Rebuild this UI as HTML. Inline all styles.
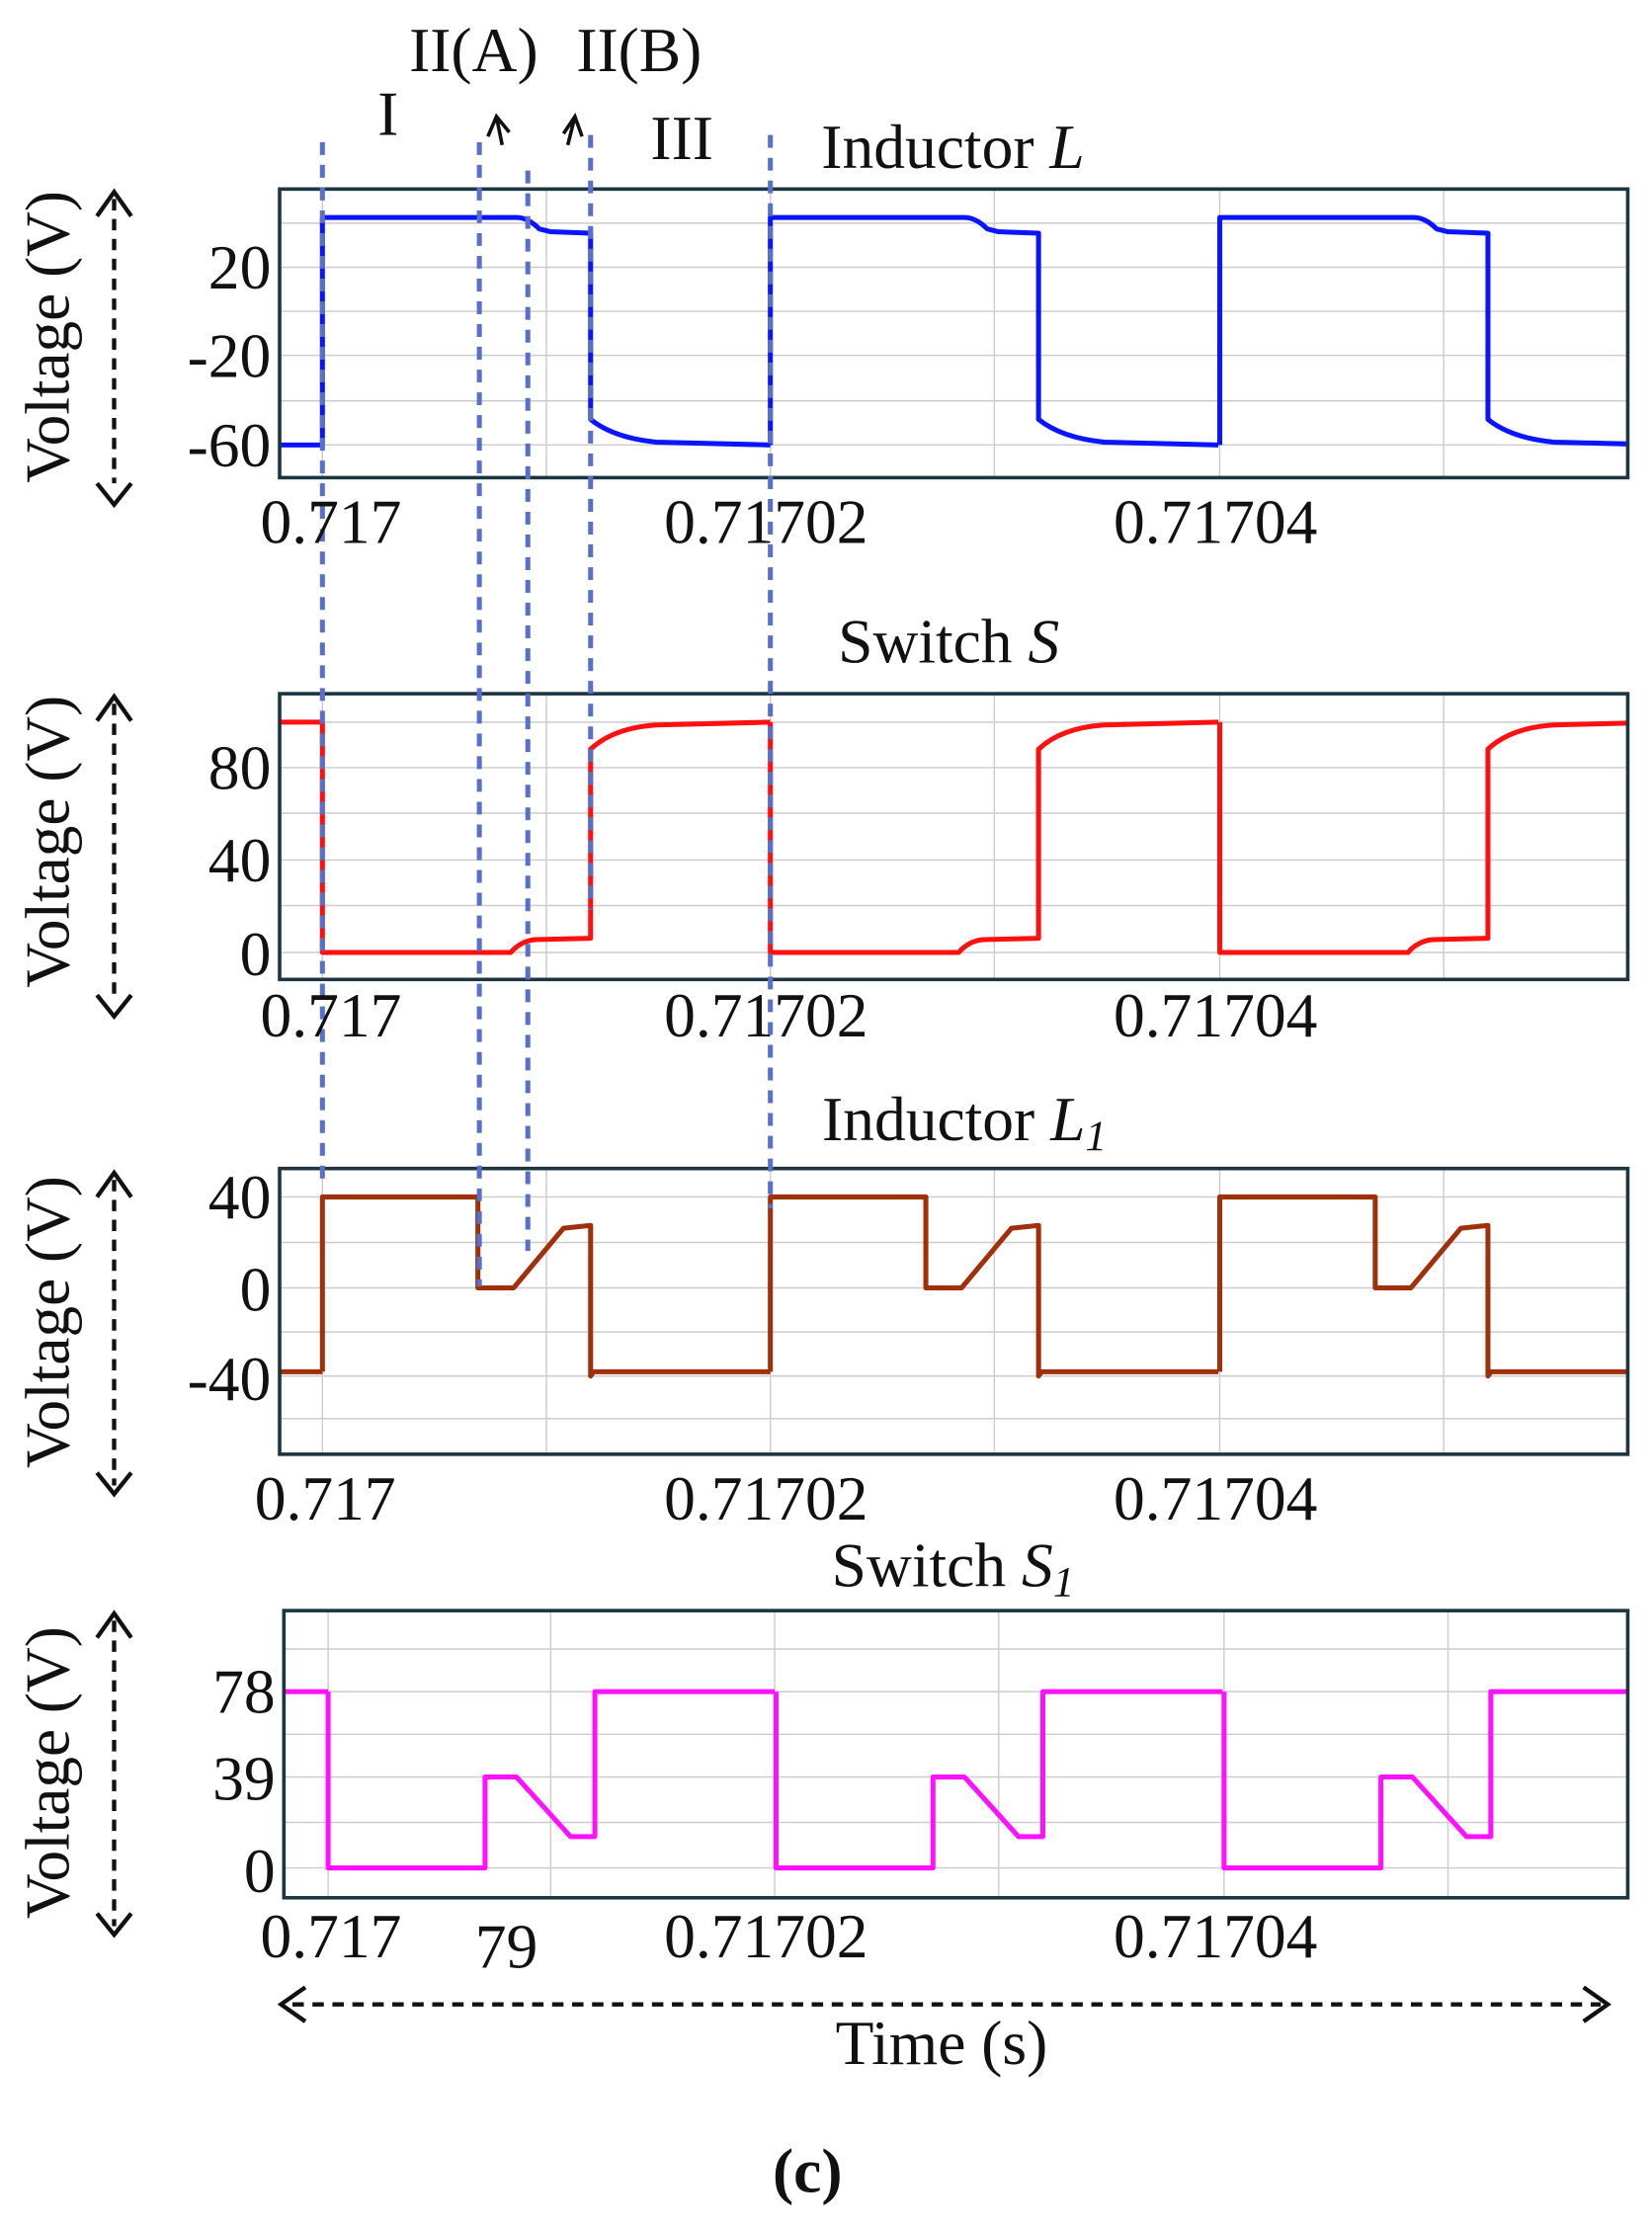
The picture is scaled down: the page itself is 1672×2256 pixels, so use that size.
<!DOCTYPE html>
<html><head><style>
html,body{margin:0;padding:0;background:#fff;}
svg{display:block;}
text{font-family:"Liberation Serif",serif;fill:#111;}
</style></head><body>
<svg width="1672" height="2256" viewBox="0 0 1158 1568" preserveAspectRatio="none" xmlns="http://www.w3.org/2000/svg">
<defs>
<clipPath id="c1"><rect x="196" y="133" width="945" height="203"/></clipPath>
<clipPath id="c2"><rect x="196" y="488" width="945" height="201"/></clipPath>
<clipPath id="c3"><rect x="196" y="822" width="945" height="201"/></clipPath>
<clipPath id="c4"><rect x="199" y="1133" width="942" height="202"/></clipPath>
<path id="p1" d="M226,313 L226,153 L362,153 Q370,153 378,161 L386,163 L414,164 L414,295 Q430,308 460,311 L540,313"/>
<path id="p2" d="M226,508 L226,670 L358,670 Q365,662 375,661 L414,660 L414,527 Q430,512 460,510 L540,508"/>
<path id="p3" d="M226,965 L226,842 L335,842 L335,906 L360,906 L395,864 L414,862 L414,968 L416,965 L540,965"/>
<path id="p4" d="M230,1190 L230,1314 L340,1314 L340,1250 L362,1250 L400,1292 L417,1292 L417,1190 L543,1190"/>
</defs>
<g stroke="#ccc" stroke-width="1">
<path d="M226,133V336M383,133V336M540,133V336M697,133V336M855,133V336M1012,133V336M196,157H1141M196,188H1141M196,219H1141M196,250H1141M196,282H1141M196,313H1141"/>
<path d="M226,488V689M383,488V689M540,488V689M697,488V689M855,488V689M1012,488V689M196,508H1141M196,540H1141M196,572H1141M196,605H1141M196,637H1141M196,670H1141"/>
<path d="M226,822V1023M383,822V1023M540,822V1023M697,822V1023M855,822V1023M1012,822V1023M196,842H1141M196,874H1141M196,906H1141M196,937H1141M196,968H1141M196,998H1141"/>
<path d="M230,1133V1335M386,1133V1335M543,1133V1335M700,1133V1335M858,1133V1335M1015,1133V1335M199,1160H1141M199,1190H1141M199,1220H1141M199,1250H1141M199,1282H1141M199,1314H1141"/>
</g>
<g fill="none" stroke-width="3.5" stroke-linejoin="round">
<g clip-path="url(#c1)" stroke="#0a14ff"><path d="M196,313 L226,313"/><use href="#p1"/><use href="#p1" x="314"/><use href="#p1" x="629"/></g>
<g clip-path="url(#c2)" stroke="#ff1010"><path d="M196,508 L226,508"/><use href="#p2"/><use href="#p2" x="314"/><use href="#p2" x="629"/></g>
<g clip-path="url(#c3)" stroke="#a0300a"><path d="M196,965 L226,965"/><use href="#p3"/><use href="#p3" x="314"/><use href="#p3" x="629"/></g>
<g clip-path="url(#c4)" stroke="#ff10ff"><path d="M199,1190 L230,1190"/><use href="#p4"/><use href="#p4" x="314"/><use href="#p4" x="628"/></g>
</g>
<g fill="none" stroke="#1d3540" stroke-width="2.5">
<rect x="196" y="133" width="945" height="203"/>
<rect x="196" y="488" width="945" height="201"/>
<rect x="196" y="822" width="945" height="201"/>
<rect x="199" y="1133" width="942" height="202"/>
</g>
<g stroke="#5a6fc8" stroke-width="3.5" stroke-dasharray="9,7" fill="none">
<path d="M226,100V835M336,100V905M370,120V880M414,95V640M540,95V850"/>
</g>
<g stroke="#111" stroke-width="2.5" fill="none">
<path d="M352,102 L348,82 M342,96 L348,82 L357,93"/>
<path d="M398,102 L403,82 M395,94 L403,82 L408,96"/>
</g>
<g font-size="44">
<text x="272" y="95" text-anchor="middle">I</text>
<text x="332" y="50" text-anchor="middle">II(A)</text>
<text x="448" y="50" text-anchor="middle">II(B)</text>
<text x="478" y="112" text-anchor="middle">III</text>
<text x="668" y="118" text-anchor="middle">Inductor <tspan font-style="italic">L</tspan></text>
<text x="665" y="466" text-anchor="middle">Switch <tspan font-style="italic">S</tspan></text>
<text x="676" y="802" text-anchor="middle">Inductor <tspan font-style="italic">L<tspan font-size="30" dy="7">1</tspan></tspan></text>
<text x="668" y="1116" text-anchor="middle">Switch <tspan font-style="italic">S<tspan font-size="30" dy="7">1</tspan></tspan></text>
<g text-anchor="end">
<text x="190" y="203">20</text><text x="190" y="265">-20</text><text x="190" y="328">-60</text>
<text x="190" y="555">80</text><text x="190" y="620">40</text><text x="190" y="686">0</text>
<text x="190" y="857">40</text><text x="190" y="922">0</text><text x="190" y="985">-40</text>
<text x="193" y="1205">78</text><text x="193" y="1266">39</text><text x="193" y="1331">0</text>
</g>
<g text-anchor="middle">
<text x="232" y="382">0.717</text><text x="537" y="382">0.71702</text><text x="852" y="382">0.71704</text>
<text x="232" y="729">0.717</text><text x="537" y="729">0.71702</text><text x="852" y="729">0.71704</text>
<text x="228" y="1069">0.717</text><text x="537" y="1069">0.71702</text><text x="852" y="1069">0.71704</text>
<text x="232" y="1377">0.717</text><text x="355" y="1384">79</text><text x="537" y="1377">0.71702</text><text x="852" y="1377">0.71704</text>
<text x="660" y="1452">Time (s)</text>
<text x="566" y="1542" font-weight="bold">(c)</text>
</g>
<g text-anchor="middle">
<text transform="translate(48,237) rotate(-90)">Voltage (V)</text>
<text transform="translate(48,592) rotate(-90)">Voltage (V)</text>
<text transform="translate(48,930) rotate(-90)">Voltage (V)</text>
<text transform="translate(48,1247) rotate(-90)">Voltage (V)</text>
</g>
</g>
<g stroke="#111" stroke-width="3" fill="none">
<g stroke-dasharray="8,6"><path d="M80,140V340M80,495V705M80,830V1045M80,1140V1355M205,1410H1122"/></g>
<path d="M68,152 L80,135 L92,152 M68,340 L80,355 L92,340"/>
<path d="M68,507 L80,490 L92,507 M68,700 L80,715 L92,700"/>
<path d="M68,842 L80,825 L92,842 M68,1036 L80,1051 L92,1036"/>
<path d="M68,1152 L80,1135 L92,1152 M68,1346 L80,1361 L92,1346"/>
<path d="M214,1398 L197,1410 L214,1422 M1110,1398 L1127,1410 L1110,1422"/>
</g>
</svg>
</body></html>
